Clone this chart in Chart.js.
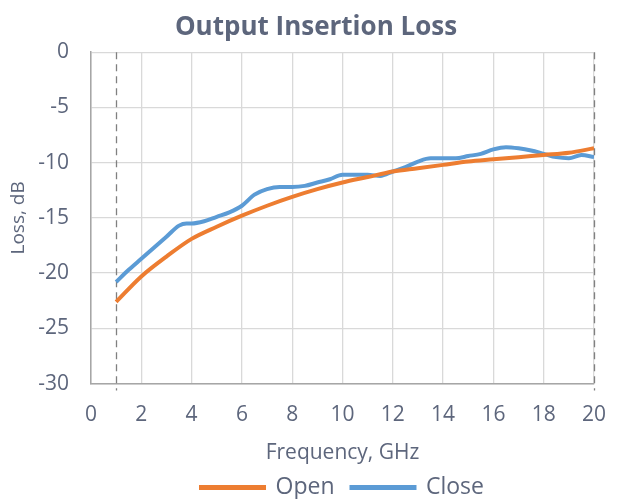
<!DOCTYPE html>
<html>
<head>
<meta charset="utf-8">
<script src="https://cdn.jsdelivr.net/npm/chart.js@4.4.1/dist/chart.umd.min.js"></script>
<style>
  body { margin: 0; background: #fff; }
  #wrap { width: 622px; height: 499px; }
</style>
</head>
<body>
<div id="wrap"><canvas id="chart"></canvas></div>
<script>
// frequency points (GHz) and loss (dB)
const openFreq = [1, 2, 3, 4, 5, 6, 7, 8, 9, 10, 11, 12, 13, 14, 15, 16, 17, 18, 19, 20];
const openLoss = [-22.6, -20.3, -18.5, -16.9, -15.8, -14.8, -13.9, -13.1, -12.4, -11.8,
                  -11.3, -10.8, -10.5, -10.2, -9.9, -9.7, -9.5, -9.3, -9.1, -8.7];

const closeFreq = [1, 1.5, 2, 2.5, 3, 3.5, 3.8, 4, 4.5, 5, 5.5, 6, 6.5, 7, 7.5, 8, 8.5, 9, 9.5, 10,
                   10.5, 11, 11.5, 12, 12.5, 13, 13.5, 14, 14.5, 15, 15.5, 16, 16.5, 17, 17.5,
                   18, 18.5, 19, 19.5, 20];
const closeLoss = [-20.8, -19.7, -18.7, -17.7, -16.7, -15.7, -15.5, -15.5, -15.3, -14.9, -14.5, -13.9,
                   -12.9, -12.4, -12.2, -12.2, -12.1, -11.8, -11.5, -11.1, -11.1, -11.1, -11.2,
                   -10.8, -10.4, -9.9, -9.6, -9.6, -9.6, -9.4, -9.2, -8.8, -8.6, -8.7, -8.9,
                   -9.2, -9.5, -9.6, -9.3, -9.5];

const markerFreqs = [1, 20];   // dashed band edges
const xTicks = [0, 2, 4, 6, 8, 10, 12, 14, 16, 18, 20];
const yTicks = [0, -5, -10, -15, -20, -25, -30];

const textColor = "#5d667c";
const font = "'Open Sans', 'Noto Sans', sans-serif";

const toPoints = (xs, ys) => xs.map((x, i) => ({ x: x, y: ys[i] }));

const markerLines = {
    id: "markerLines",
    beforeDatasetsDraw(chart) {
        const { ctx, chartArea, scales } = chart;
        ctx.save();
        ctx.strokeStyle = "#808080";
        ctx.lineWidth = 1.3;
        ctx.setLineDash([7, 5]);
        markerFreqs.forEach((f) => {
            const px = Math.round(scales.x.getPixelForValue(f)) + 0.5;
            ctx.beginPath();
            ctx.moveTo(px, chartArea.top);
            ctx.lineTo(px, chartArea.bottom + 7);
            ctx.stroke();
        });
        ctx.restore();
    },
};

new Chart(document.getElementById("chart"), {
    type: "line",
    data: {
        datasets: [
            {
                label: "Open",
                data: toPoints(openFreq, openLoss),
                borderColor: "#ED7D31",
                backgroundColor: "#ED7D31",
                borderWidth: 4,
                pointRadius: 0,
                cubicInterpolationMode: "monotone",
            },
            {
                label: "Close",
                data: toPoints(closeFreq, closeLoss),
                borderColor: "#5B9BD5",
                backgroundColor: "#5B9BD5",
                borderWidth: 4,
                pointRadius: 0,
                cubicInterpolationMode: "monotone",
            },
        ],
    },
    options: {
        responsive: true,
        maintainAspectRatio: false,
        animation: false,
        layout: { padding: { left: 38, right: 28, top: 0, bottom: -10 } },
        plugins: {
            title: {
                display: true,
                text: "Output Insertion Loss",
                color: textColor,
                font: { family: font, size: 26, weight: "bold" },
                padding: { top: 12, bottom: 9 },
            },
            legend: {
                position: "bottom",
                fullSize: false,
                labels: {
                    color: textColor,
                    font: { family: font, size: 23 },
                    boxWidth: 63,
                    boxHeight: 1,
                    padding: 17,
                },
            },
            tooltip: { enabled: false },
        },
        scales: {
            x: {
                type: "linear",
                min: 0,
                max: 20,
                afterBuildTicks: (axis) => { axis.ticks = xTicks.map((v) => ({ value: v })); },
                afterFit: (axis) => { axis.paddingRight = 0; },
                grid: { color: "#d9d9d9", lineWidth: 1.3, drawTicks: false },
                border: { color: "#a6a6a6", width: 1.5 },
                ticks: { color: textColor, font: { family: font, size: 21 }, padding: 19, maxRotation: 0 },
                title: {
                    display: true,
                    text: "Frequency, GHz",
                    color: textColor,
                    font: { family: font, size: 21 },
                    padding: { top: -6, bottom: -7 },
                },
            },
            y: {
                min: -30,
                max: 0,
                afterBuildTicks: (axis) => { axis.ticks = yTicks.map((v) => ({ value: v })); },
                afterFit: (axis) => { axis.width = 53; },
                grid: { color: "#d9d9d9", lineWidth: 1.3, drawTicks: false },
                border: { color: "#a6a6a6", width: 1.5 },
                ticks: { color: textColor, font: { family: font, size: 21 }, padding: 22 },
                title: {
                    display: true,
                    text: "Loss, dB",
                    color: textColor,
                    font: { family: font, size: 19 },
                    padding: { top: -31, bottom: 4 },
                },
            },
        },
    },
    plugins: [markerLines],
});
</script>
</body>
</html>
